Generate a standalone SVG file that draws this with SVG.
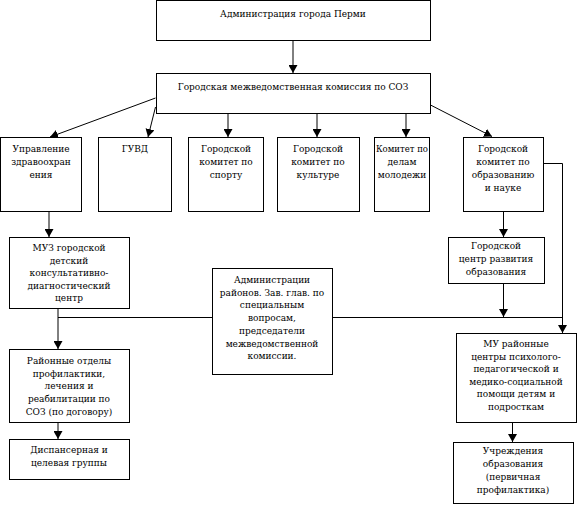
<svg xmlns="http://www.w3.org/2000/svg" width="577" height="514" viewBox="0 0 577 514">
<style>
.box{fill:#fff;stroke:#000;stroke-width:1}
text{font-family:"DejaVu Serif Condensed","DejaVu Serif",serif;font-stretch:condensed;font-size:10px;fill:#000;text-anchor:middle}
.c{fill:none;stroke:#000;stroke-width:1}
.a{marker-end:url(#ah)}
</style>
<defs>
<marker id="ah" markerUnits="userSpaceOnUse" markerWidth="8" markerHeight="9" viewBox="0 0 8 9" refX="8" refY="4.5" orient="auto">
<path d="M0,0 L8,4.5 L0,9 z" fill="#000"/>
</marker>
</defs>
<rect width="577" height="514" fill="#fff"/>
<g id="connectors">
<line class="c a" x1="293" y1="40.5" x2="293" y2="73"/>
<line class="c a" x1="155.5" y1="98" x2="50" y2="137"/>
<line class="c a" x1="155.5" y1="107" x2="148" y2="137"/>
<line class="c a" x1="228" y1="113" x2="228" y2="137"/>
<line class="c a" x1="317" y1="113" x2="317" y2="137"/>
<line class="c a" x1="406" y1="113" x2="406" y2="137"/>
<line class="c a" x1="430.5" y1="105" x2="492" y2="136.5"/>
<line class="c a" x1="49" y1="211" x2="49" y2="237"/>
<line class="c a" x1="58" y1="308" x2="58" y2="349"/>
<line class="c" x1="58" y1="317.5" x2="212" y2="317.5"/>
<line class="c a" x1="58" y1="422" x2="58" y2="439"/>
<line class="c a" x1="503.5" y1="211" x2="503.5" y2="237"/>
<line class="c a" x1="503.5" y1="283" x2="503.5" y2="317"/>
<line class="c" x1="332" y1="317.5" x2="562" y2="317.5"/>
<polyline class="c a" points="543,163.5 562.5,163.5 562.5,333"/>
<line class="c a" x1="512.5" y1="422" x2="512.5" y2="442"/>
</g>
<g id="n-admin-perm">
<rect class="box" x="156.5" y="0.5" width="274" height="40"/>
<text x="293" y="17">Администрация города Перми</text>
</g>
<g id="n-commission">
<rect class="box" x="156.5" y="73.5" width="274" height="40"/>
<text x="293" y="90">Городская межведомственная комиссия по СОЗ</text>
</g>
<g id="n-health">
<rect class="box" x="0.5" y="137.5" width="81" height="74"/>
<text x="41" y="152">Управление</text>
<text x="41" y="165">здравоохран</text>
<text x="41" y="178">ения</text>
</g>
<g id="n-guvd">
<rect class="box" x="98.5" y="137.5" width="73" height="74"/>
<text x="135" y="152">ГУВД</text>
</g>
<g id="n-sport">
<rect class="box" x="188.5" y="137.5" width="75" height="74"/>
<text x="226" y="152">Городской</text>
<text x="226" y="165">комитет по</text>
<text x="226" y="178">спорту</text>
</g>
<g id="n-culture">
<rect class="box" x="277.5" y="137.5" width="82" height="74"/>
<text x="318" y="152">Городской</text>
<text x="318" y="165">комитет по</text>
<text x="318" y="178">культуре</text>
</g>
<g id="n-youth">
<rect class="box" x="374.5" y="137.5" width="55" height="74"/>
<text x="402" y="152" textLength="52" lengthAdjust="spacingAndGlyphs">Комитет по</text>
<text x="402" y="165">делам</text>
<text x="402" y="178">молодежи</text>
</g>
<g id="n-education">
<rect class="box" x="463.5" y="137.5" width="80" height="74"/>
<text x="503" y="152">Городской</text>
<text x="503" y="165">комитет по</text>
<text x="503" y="178">образованию</text>
<text x="503" y="191">и науке</text>
</g>
<g id="n-muz">
<rect class="box" x="9.5" y="237.5" width="120" height="71"/>
<text x="69" y="251">МУЗ городской</text>
<text x="69" y="263.5">детский</text>
<text x="69" y="276">консультативно-</text>
<text x="69" y="288.5">диагностический</text>
<text x="69" y="301">центр</text>
</g>
<g id="n-districts-admin">
<rect class="box" x="212.5" y="268.5" width="120" height="106"/>
<text x="272" y="283">Администрации</text>
<text x="272" y="295.7">районов. Зав. глав. по</text>
<text x="272" y="308.4">специальным</text>
<text x="272" y="321.1">вопросам,</text>
<text x="272" y="333.8">председатели</text>
<text x="272" y="346.5">межведомственной</text>
<text x="272" y="359.2">комиссии.</text>
</g>
<g id="n-gcro">
<rect class="box" x="448.5" y="237.5" width="96" height="46"/>
<text x="496" y="249">Городской</text>
<text x="496" y="262">центр развития</text>
<text x="496" y="275">образования</text>
</g>
<g id="n-district-depts">
<rect class="box" x="9.5" y="349.5" width="120" height="73"/>
<text x="69" y="364">Районные отделы</text>
<text x="69" y="376.7">профилактики,</text>
<text x="69" y="389.4">лечения и</text>
<text x="69" y="402.1">реабилитации по</text>
<text x="69" y="414.8">СОЗ (по договору)</text>
</g>
<g id="n-dispensary">
<rect class="box" x="9.5" y="439.5" width="120" height="40"/>
<text x="69" y="453">Диспансерная и</text>
<text x="69" y="466">целевая группы</text>
</g>
<g id="n-mu-centers">
<rect class="box" x="456.5" y="333.5" width="120" height="89"/>
<text x="516" y="347">МУ районные</text>
<text x="516" y="359.6">центры психолого-</text>
<text x="516" y="372.2">педагогической и</text>
<text x="516" y="384.8">медико-социальной</text>
<text x="516" y="397.4">помощи детям и</text>
<text x="516" y="410">подросткам</text>
</g>
<g id="n-institutions">
<rect class="box" x="453.5" y="442.5" width="120" height="61"/>
<text x="513" y="454">Учреждения</text>
<text x="513" y="467">образования</text>
<text x="513" y="480">(первичная</text>
<text x="513" y="493">профилактика)</text>
</g>
</svg>
